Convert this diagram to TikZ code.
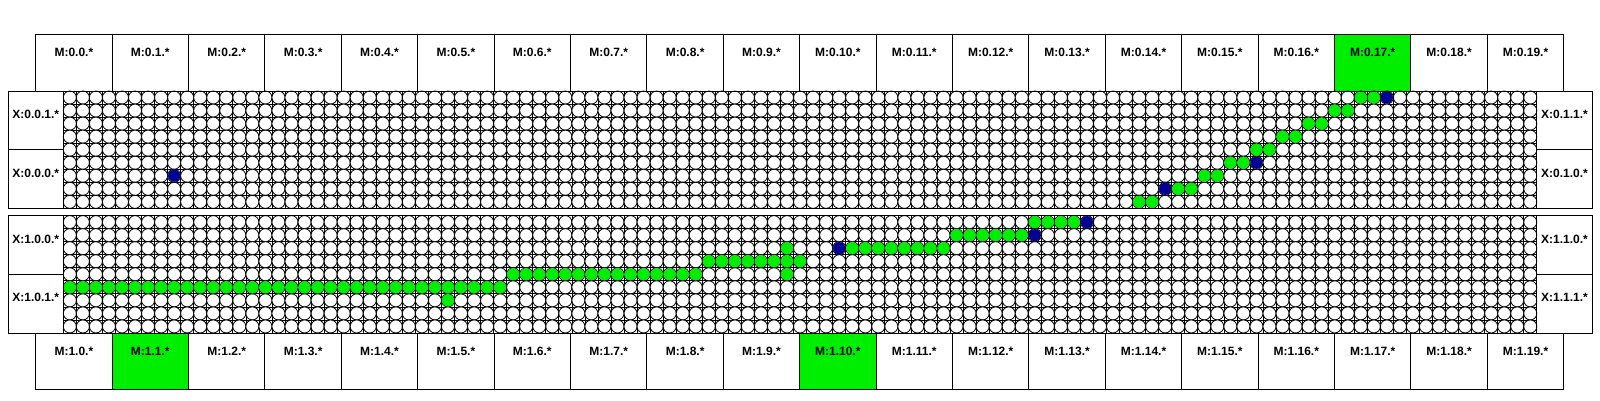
\documentclass[tikz,border=0pt]{standalone}
\usepackage{fontspec}
\setmainfont{Liberation Sans}
\definecolor{selgreen}{RGB}{0,238,0}
\definecolor{selblue}{RGB}{0,0,150}
\begin{document}
\begin{tikzpicture}[x=1pt,y=-1pt, %Unidade em pixels, eixo y para baixo
	box/.style={draw, line width=1pt},
	gridline/.style={line width=0.7pt},
	hole/.style={draw, fill=white, line width=0.8pt},
	lbl/.style={font=\fontsize{12}{14}\selectfont\bfseries, inner sep=0pt}]
	\useasboundingbox (0,0) rectangle (1600,400);
		%Caixas M selecionadas
	\fill[selgreen] ({35.7+17*76.4},34.3) rectangle ++(76.4,56.7);
	\fill[selgreen] ({35.7+1*76.4},333) rectangle ++(76.4,56.8);
	\fill[selgreen] ({35.7+10*76.4},333) rectangle ++(76.4,56.8);
		%Caixas M
	\foreach \i in {0,...,19} {
		\draw[box] ({35.7+\i*76.4},34.3) rectangle ++(76.4,56.7);
		\node[lbl] (mt\i) at ({35.7+(\i+0.5)*76.4},52.5) {M:0.\i.*};
		\draw[box] ({35.7+\i*76.4},333) rectangle ++(76.4,56.8);
		\node[lbl] (mb\i) at ({35.7+(\i+0.5)*76.4},351) {M:1.\i.*};
	}
		%Grade de furos
	\foreach \yo in {91,215.6} {
		\foreach \c in {0,...,113} \draw[gridline] ({63.3+\c*13.04},\yo) -- ++(0,117.4);
		\foreach \r in {0,...,9} \draw[gridline] (63.3,{\yo+\r*13.04}) -- ++(1473.4,0);
		\foreach \r in {0,...,8} \foreach \c in {0,...,112}
			\draw[hole] ({63.3+(\c+0.5)*13.04},{\yo+(\r+0.5)*13.04}) circle (6.52);
	}
		%Furos ocupados, bloco superior
	\foreach \r/\c/\col in {8/82/selgreen, 8/83/selgreen, 7/84/selblue, 7/85/selgreen, 7/86/selgreen,
			6/87/selgreen, 6/88/selgreen, 5/89/selgreen, 5/90/selgreen, 5/91/selblue, 4/91/selgreen,
			4/92/selgreen, 3/93/selgreen, 3/94/selgreen, 2/95/selgreen, 2/96/selgreen, 1/97/selgreen,
			1/98/selgreen, 0/99/selgreen, 0/100/selgreen, 0/101/selblue, 6/8/selblue}
		\fill[\col] ({63.3+(\c+0.5)*13.04},{91+(\r+0.5)*13.04}) circle (6.1);
		%Furos ocupados, bloco inferior
	\foreach \c in {0,...,33} \fill[selgreen] ({63.3+(\c+0.5)*13.04},{215.6+5.5*13.04}) circle (6.1);
	\foreach \c in {34,...,48,55} \fill[selgreen] ({63.3+(\c+0.5)*13.04},{215.6+4.5*13.04}) circle (6.1);
	\foreach \c in {49,...,56} \fill[selgreen] ({63.3+(\c+0.5)*13.04},{215.6+3.5*13.04}) circle (6.1);
	\foreach \c in {55,60,61,...,67} \fill[selgreen] ({63.3+(\c+0.5)*13.04},{215.6+2.5*13.04}) circle (6.1);
	\foreach \c in {68,...,73} \fill[selgreen] ({63.3+(\c+0.5)*13.04},{215.6+1.5*13.04}) circle (6.1);
	\foreach \c in {74,...,77} \fill[selgreen] ({63.3+(\c+0.5)*13.04},{215.6+0.5*13.04}) circle (6.1);
	\fill[selgreen] ({63.3+29.5*13.04},{215.6+6.5*13.04}) circle (6.1);
	\foreach \r/\c in {2/59, 1/74, 0/78}
		\fill[selblue] ({63.3+(\c+0.5)*13.04},{215.6+(\r+0.5)*13.04}) circle (6.1);
		%Blocos e caixas X
	\foreach \yo/\b in {91/0, 215.6/1} {
		\draw[box] (8.3,\yo) rectangle (1592.3,{\yo+117.4});
		\draw[box] (63.3,\yo) -- ++(0,117.4);
		\draw[box] (1536.7,\yo) -- ++(0,117.4);
		\draw[box] (8.3,{\yo+58.7}) -- (63.3,{\yo+58.7});
		\draw[box] (1536.7,{\yo+58.7}) -- (1592.3,{\yo+58.7});
	}
	\node[lbl] (x001) at (35.8,114.3) {X:0.0.1.*};
	\node[lbl] (x000) at (35.8,173) {X:0.0.0.*};
	\node[lbl] (x011) at (1564.5,114.3) {X:0.1.1.*};
	\node[lbl] (x010) at (1564.5,173) {X:0.1.0.*};
	\node[lbl] (x100) at (35.8,238.9) {X:1.0.0.*};
	\node[lbl] (x101) at (35.8,297.6) {X:1.0.1.*};
	\node[lbl] (x110) at (1564.5,238.9) {X:1.1.0.*};
	\node[lbl] (x111) at (1564.5,297.6) {X:1.1.1.*};
\end{tikzpicture}
\end{document}
